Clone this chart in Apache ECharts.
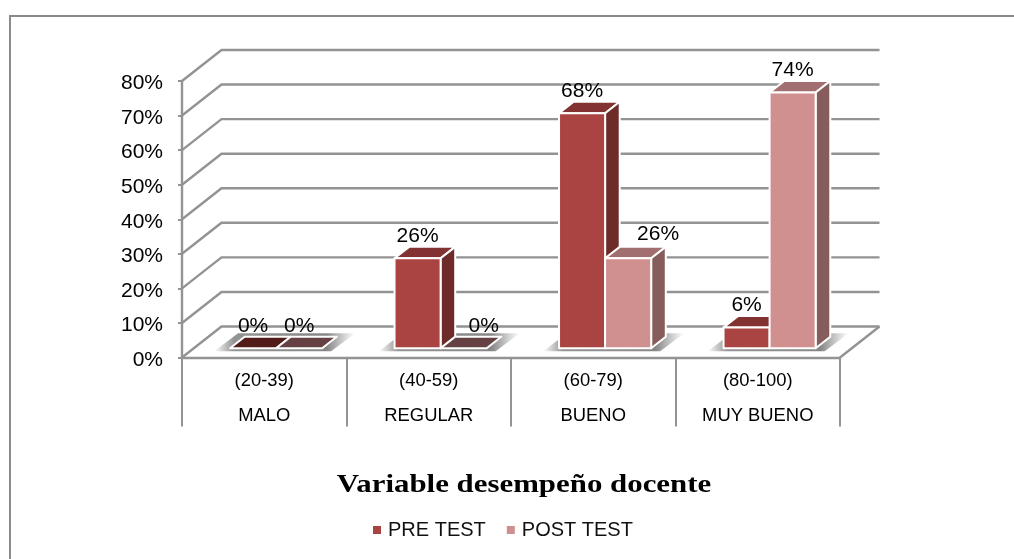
<!DOCTYPE html>
<html>
<head>
<meta charset="utf-8">
<title>Variable desempeño docente</title>
<style>
  html, body { margin: 0; padding: 0; background: #fff; }
  #chart { width: 1014px; height: 559px; }
</style>
<script src="https://cdn.jsdelivr.net/npm/echarts@6/dist/echarts.min.js"></script>
</head>
<body>
<div id="chart"></div>
<script>
// Chart data
const ranges = ['(20-39)', '(40-59)', '(60-79)', '(80-100)'];
const levels = ['MALO', 'REGULAR', 'BUENO', 'MUY BUENO'];
const preTest = [0, 26, 68, 6];
const postTest = [0, 0, 26, 74];
const percentTicks = [0, 10, 20, 30, 40, 50, 60, 70, 80];

// Oblique projection of the box: how far the back wall sits from the front plane
const WALL_DX = 39.5;
const WALL_DY = -31;
const BAR_NEAR = 0.3;   // depth of a bar's front face
const BAR_FAR = 0.67;   // depth of a bar's back face
const BAR_BAND = 0.28;  // bar width as a share of the category band

const FONT = '"Liberation Sans", Arial, sans-serif';
const WALL_COLOR = '#939393';

const palette = {
  pre:  { front: '#a94442', side: '#6d2b2a', top: '#823331', flat: '#511c1a' },
  post: { front: '#d09090', side: '#875c5c', top: '#a16f6f', flat: '#654143' }
};

// Data labels that sit beside their column instead of centred above it
const labelShift = { post: { 1: [20, 0], 2: [30, -2] }, pre: {} };

function depth(pt, d) {
  return [pt[0] + d * WALL_DX, pt[1] + d * WALL_DY];
}

// Walls and floor: each gridline runs up the side wall, then along the back wall
function renderWalls(params, api) {
  const sys = params.coordSys;
  const value = api.value(0);
  const y = api.coord([0, value])[1];
  const left = sys.x;
  const right = sys.x + sys.width;
  const children = [{
    type: 'polyline',
    shape: { points: [[left, y], depth([left, y], 1), depth([right, y], 1)] },
    style: { fill: null, stroke: WALL_COLOR, lineWidth: 2.4 }
  }];
  if (value === 0) {
    children.push({
      type: 'line',
      shape: { x1: right, y1: y, x2: right + WALL_DX, y2: y + WALL_DY },
      style: { stroke: WALL_COLOR, lineWidth: 2.4 }
    });
  }
  return { type: 'group', children: children };
}

// Soft shadow cast on the floor below each pair of columns
function renderShadow(params, api) {
  const c = api.coord([api.value(0), 0]);
  const band = api.size([1, 0])[0];
  const w = band * BAR_BAND;
  const cx = depth(c, BAR_NEAR)[0];
  const base = depth(c, BAR_NEAR)[1];
  const l = cx - w - 16;
  const r = cx + w + 33;
  const skew = 24;
  return {
    type: 'polygon',
    shape: { points: [[l, base + 3], [r - skew, base + 3], [r, base - 15], [l + skew, base - 15]] },
    style: {
      fill: {
        type: 'linear', x: 0, y: 0, x2: 1, y2: 0,
        colorStops: [
          { offset: 0, color: 'rgba(128,128,128,0)' },
          { offset: 0.14, color: 'rgba(128,128,128,0.85)' },
          { offset: 0.8, color: 'rgba(128,128,128,0.95)' },
          { offset: 1, color: 'rgba(140,140,140,0)' }
        ]
      }
    }
  };
}

// One extruded column: front, side and top faces plus its percentage label
function columnRenderer(key, side) {
  const colors = palette[key];
  return function (params, api) {
    const index = api.value(0);
    const value = api.value(1);
    const bottom = api.coord([index, 0]);
    const top = api.coord([index, value]);
    const w = api.size([1, 0])[0] * BAR_BAND;
    const x0 = depth(bottom, BAR_NEAR)[0] + (side < 0 ? -w : 0);
    const x1 = x0 + w;
    const near = BAR_NEAR * WALL_DY;
    const yBase = bottom[1] + near;
    const yTop = top[1] + near;
    const extent = BAR_FAR - BAR_NEAR;
    const back = function (x, y) { return depth([x, y], extent); };
    const outline = { stroke: '#ffffff', lineWidth: 2, lineJoin: 'round' };
    const children = [];

    children.push({
      type: 'polygon',
      shape: { points: [[x0, yTop], [x1, yTop], back(x1, yTop), back(x0, yTop)] },
      style: Object.assign({ fill: value === 0 ? colors.flat : colors.top }, outline)
    });
    if (value > 0) {
      children.push({
        type: 'polygon',
        shape: { points: [[x1, yTop], back(x1, yTop), back(x1, yBase), [x1, yBase]] },
        style: Object.assign({ fill: colors.side }, outline)
      });
      children.push({
        type: 'rect',
        shape: { x: x0, y: yTop, width: w, height: yBase - yTop },
        style: Object.assign({ fill: colors.front }, outline)
      });
    }

    const shift = labelShift[key][index] || [0, 0];
    children.push({
      type: 'text',
      z2: 10,
      style: {
        x: (x0 + x1) / 2 + shift[0],
        y: yTop - 22 + shift[1],
        text: value + '%',
        fill: '#000000',
        font: '21px ' + FONT,
        align: 'center',
        verticalAlign: 'middle'
      }
    });
    return { type: 'group', children: children };
  };
}

const chart = echarts.init(document.getElementById('chart'));

chart.setOption({
  animation: false,
  backgroundColor: '#ffffff',
  legend: {
    left: 373,
    top: 520,
    padding: 0,
    icon: 'rect',
    itemWidth: 8,
    itemHeight: 8,
    itemGap: 21,
    data: ['PRE TEST', 'POST TEST'],
    textStyle: { fontFamily: FONT, fontSize: 20, color: '#111111', padding: [0, 0, 0, 2] }
  },
  grid: { left: 182, right: 174, top: 81, bottom: 201.5 },
  xAxis: {
    type: 'category',
    data: ranges.map(function (r, i) { return r + '\n' + levels[i]; }),
    boundaryGap: true,
    axisLine: { lineStyle: { color: WALL_COLOR, width: 2.4 } },
    axisTick: { show: true, length: 69, lineStyle: { color: WALL_COLOR, width: 2 } },
    axisLabel: { fontFamily: FONT, fontSize: 18.4, color: '#000000', lineHeight: 35, margin: 6 },
    splitLine: { show: false }
  },
  yAxis: {
    type: 'value',
    min: 0,
    max: 80,
    interval: 10,
    axisLine: { show: true, lineStyle: { color: WALL_COLOR, width: 2.4 } },
    axisTick: { show: true, length: 4, lineStyle: { color: WALL_COLOR, width: 2 } },
    axisLabel: {
      fontFamily: FONT, fontSize: 21, color: '#000000', margin: 19,
      verticalAlign: 'top', lineHeight: 5, formatter: '{value}%'
    },
    splitLine: { show: false }
  },
  graphic: [
    {
      type: 'polyline',
      silent: true,
      shape: { points: [[10, 559], [10, 16], [1014, 16]] },
      style: { fill: null, stroke: '#8a8a8a', lineWidth: 2 }
    },
    {
      // Chart caption, widened to its running width
      type: 'text',
      silent: true,
      x: 524,
      y: 485.5,
      scaleX: 1.187,
      style: {
        text: 'Variable desempeño docente',
        font: 'bold 26px "Liberation Serif", "Times New Roman", serif',
        fill: '#000000',
        align: 'center',
        verticalAlign: 'middle'
      }
    }
  ],
  series: [
    {
      type: 'custom', name: 'walls', silent: true, z: 1, clip: false,
      coordinateSystem: 'cartesian2d',
      encode: { y: 0 },
      data: percentTicks.map(function (t) { return [t]; }),
      renderItem: renderWalls
    },
    {
      type: 'custom', name: 'shadow', silent: true, z: 2, clip: false,
      coordinateSystem: 'cartesian2d',
      data: ranges.map(function (r, i) { return [i]; }),
      renderItem: renderShadow
    },
    {
      type: 'custom', name: 'PRE TEST', z: 3, clip: false,
      coordinateSystem: 'cartesian2d',
      itemStyle: { color: palette.pre.front },
      encode: { x: 0, y: 1 },
      data: preTest.map(function (v, i) { return [i, v]; }),
      renderItem: columnRenderer('pre', -1)
    },
    {
      type: 'custom', name: 'POST TEST', z: 4, clip: false,
      coordinateSystem: 'cartesian2d',
      itemStyle: { color: palette.post.front },
      encode: { x: 0, y: 1 },
      data: postTest.map(function (v, i) { return [i, v]; }),
      renderItem: columnRenderer('post', 1)
    }
  ]
});
</script>
</body>
</html>
